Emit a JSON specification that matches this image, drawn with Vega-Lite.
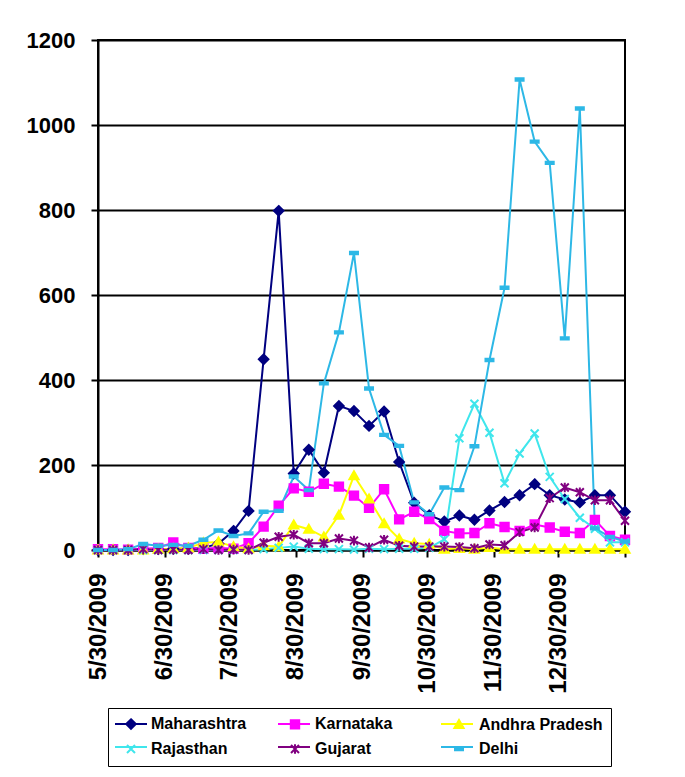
{
  "$schema": "https://vega.github.io/schema/vega-lite/v6.json",
  "autosize": "none",
  "padding": {"left": 98, "top": 40, "right": 60, "bottom": 227},
  "width": 527,
  "height": 510,
  "background": "white",
  "config": {
    "view": {"stroke": "black", "strokeWidth": 2},
    "font": "Liberation Sans",
    "legend": {
      "orient": "none",
      "legendX": 10,
      "legendY": 668,
      "direction": "horizontal",
      "columns": 3,
      "gridAlign": "all",
      "rowPadding": 7,
      "padding": 8,
      "labelFont": "Liberation Sans",
      "labelFontSize": 16,
      "labelFontWeight": "bold",
      "labelColor": "black",
      "labelLimit": 200,
      "symbolSize": 64,
      "symbolOffset": 7,
      "labelOffset": 12,
      "symbolOpacity": 1,
      "symbolStrokeWidth": 2
    }
  },
  "data": {
    "values": [
      {"d": "2009-05-30", "s": "Maharashtra", "v": 0}, {"d": "2009-06-06", "s": "Maharashtra", "v": 0}, {"d": "2009-06-13", "s": "Maharashtra", "v": 0}, {"d": "2009-06-20", "s": "Maharashtra", "v": 2}, {"d": "2009-06-27", "s": "Maharashtra", "v": 2}, {"d": "2009-07-04", "s": "Maharashtra", "v": 3}, {"d": "2009-07-11", "s": "Maharashtra", "v": 3}, {"d": "2009-07-18", "s": "Maharashtra", "v": 5}, {"d": "2009-07-25", "s": "Maharashtra", "v": 15}, {"d": "2009-08-01", "s": "Maharashtra", "v": 45}, {"d": "2009-08-08", "s": "Maharashtra", "v": 92}, {"d": "2009-08-15", "s": "Maharashtra", "v": 449}, {"d": "2009-08-22", "s": "Maharashtra", "v": 798}, {"d": "2009-08-29", "s": "Maharashtra", "v": 180}, {"d": "2009-09-05", "s": "Maharashtra", "v": 236}, {"d": "2009-09-12", "s": "Maharashtra", "v": 182}, {"d": "2009-09-19", "s": "Maharashtra", "v": 339}, {"d": "2009-09-26", "s": "Maharashtra", "v": 327}, {"d": "2009-10-03", "s": "Maharashtra", "v": 292}, {"d": "2009-10-10", "s": "Maharashtra", "v": 326}, {"d": "2009-10-17", "s": "Maharashtra", "v": 207}, {"d": "2009-10-24", "s": "Maharashtra", "v": 111}, {"d": "2009-10-31", "s": "Maharashtra", "v": 82}, {"d": "2009-11-07", "s": "Maharashtra", "v": 67}, {"d": "2009-11-14", "s": "Maharashtra", "v": 81}, {"d": "2009-11-21", "s": "Maharashtra", "v": 71}, {"d": "2009-11-28", "s": "Maharashtra", "v": 93}, {"d": "2009-12-05", "s": "Maharashtra", "v": 113}, {"d": "2009-12-12", "s": "Maharashtra", "v": 129}, {"d": "2009-12-19", "s": "Maharashtra", "v": 155}, {"d": "2009-12-26", "s": "Maharashtra", "v": 129}, {"d": "2010-01-02", "s": "Maharashtra", "v": 119}, {"d": "2010-01-09", "s": "Maharashtra", "v": 112}, {"d": "2010-01-16", "s": "Maharashtra", "v": 129}, {"d": "2010-01-23", "s": "Maharashtra", "v": 129}, {"d": "2010-01-30", "s": "Maharashtra", "v": 90},
      {"d": "2009-05-30", "s": "Karnataka", "v": 2}, {"d": "2009-06-06", "s": "Karnataka", "v": 2}, {"d": "2009-06-13", "s": "Karnataka", "v": 1}, {"d": "2009-06-20", "s": "Karnataka", "v": 3}, {"d": "2009-06-27", "s": "Karnataka", "v": 5}, {"d": "2009-07-04", "s": "Karnataka", "v": 18}, {"d": "2009-07-11", "s": "Karnataka", "v": 5}, {"d": "2009-07-18", "s": "Karnataka", "v": 3}, {"d": "2009-07-25", "s": "Karnataka", "v": 5}, {"d": "2009-08-01", "s": "Karnataka", "v": 3}, {"d": "2009-08-08", "s": "Karnataka", "v": 16}, {"d": "2009-08-15", "s": "Karnataka", "v": 55}, {"d": "2009-08-22", "s": "Karnataka", "v": 104}, {"d": "2009-08-29", "s": "Karnataka", "v": 145}, {"d": "2009-09-05", "s": "Karnataka", "v": 137}, {"d": "2009-09-12", "s": "Karnataka", "v": 156}, {"d": "2009-09-19", "s": "Karnataka", "v": 149}, {"d": "2009-09-26", "s": "Karnataka", "v": 128}, {"d": "2009-10-03", "s": "Karnataka", "v": 99}, {"d": "2009-10-10", "s": "Karnataka", "v": 143}, {"d": "2009-10-17", "s": "Karnataka", "v": 72}, {"d": "2009-10-24", "s": "Karnataka", "v": 90}, {"d": "2009-10-31", "s": "Karnataka", "v": 73}, {"d": "2009-11-07", "s": "Karnataka", "v": 45}, {"d": "2009-11-14", "s": "Karnataka", "v": 39}, {"d": "2009-11-21", "s": "Karnataka", "v": 40}, {"d": "2009-11-28", "s": "Karnataka", "v": 63}, {"d": "2009-12-05", "s": "Karnataka", "v": 54}, {"d": "2009-12-12", "s": "Karnataka", "v": 45}, {"d": "2009-12-19", "s": "Karnataka", "v": 60}, {"d": "2009-12-26", "s": "Karnataka", "v": 53}, {"d": "2010-01-02", "s": "Karnataka", "v": 43}, {"d": "2010-01-09", "s": "Karnataka", "v": 40}, {"d": "2010-01-16", "s": "Karnataka", "v": 71}, {"d": "2010-01-23", "s": "Karnataka", "v": 33}, {"d": "2010-01-30", "s": "Karnataka", "v": 24},
      {"d": "2009-05-30", "s": "Andhra Pradesh", "v": 0}, {"d": "2009-06-06", "s": "Andhra Pradesh", "v": 0}, {"d": "2009-06-13", "s": "Andhra Pradesh", "v": 0}, {"d": "2009-06-20", "s": "Andhra Pradesh", "v": 0}, {"d": "2009-06-27", "s": "Andhra Pradesh", "v": 2}, {"d": "2009-07-04", "s": "Andhra Pradesh", "v": 3}, {"d": "2009-07-11", "s": "Andhra Pradesh", "v": 5}, {"d": "2009-07-18", "s": "Andhra Pradesh", "v": 17}, {"d": "2009-07-25", "s": "Andhra Pradesh", "v": 19}, {"d": "2009-08-01", "s": "Andhra Pradesh", "v": 8}, {"d": "2009-08-08", "s": "Andhra Pradesh", "v": 3}, {"d": "2009-08-15", "s": "Andhra Pradesh", "v": 10}, {"d": "2009-08-22", "s": "Andhra Pradesh", "v": 8}, {"d": "2009-08-29", "s": "Andhra Pradesh", "v": 59}, {"d": "2009-09-05", "s": "Andhra Pradesh", "v": 49}, {"d": "2009-09-12", "s": "Andhra Pradesh", "v": 31}, {"d": "2009-09-19", "s": "Andhra Pradesh", "v": 82}, {"d": "2009-09-26", "s": "Andhra Pradesh", "v": 175}, {"d": "2009-10-03", "s": "Andhra Pradesh", "v": 120}, {"d": "2009-10-10", "s": "Andhra Pradesh", "v": 62}, {"d": "2009-10-17", "s": "Andhra Pradesh", "v": 26}, {"d": "2009-10-24", "s": "Andhra Pradesh", "v": 16}, {"d": "2009-10-31", "s": "Andhra Pradesh", "v": 14}, {"d": "2009-11-07", "s": "Andhra Pradesh", "v": 2}, {"d": "2009-11-14", "s": "Andhra Pradesh", "v": 4}, {"d": "2009-11-21", "s": "Andhra Pradesh", "v": 2}, {"d": "2009-11-28", "s": "Andhra Pradesh", "v": 6}, {"d": "2009-12-05", "s": "Andhra Pradesh", "v": 2}, {"d": "2009-12-12", "s": "Andhra Pradesh", "v": 2}, {"d": "2009-12-19", "s": "Andhra Pradesh", "v": 2}, {"d": "2009-12-26", "s": "Andhra Pradesh", "v": 2}, {"d": "2010-01-02", "s": "Andhra Pradesh", "v": 2}, {"d": "2010-01-09", "s": "Andhra Pradesh", "v": 2}, {"d": "2010-01-16", "s": "Andhra Pradesh", "v": 2}, {"d": "2010-01-23", "s": "Andhra Pradesh", "v": 2}, {"d": "2010-01-30", "s": "Andhra Pradesh", "v": 2},
      {"d": "2009-05-30", "s": "Rajasthan", "v": 0}, {"d": "2009-06-06", "s": "Rajasthan", "v": 0}, {"d": "2009-06-13", "s": "Rajasthan", "v": 0}, {"d": "2009-06-20", "s": "Rajasthan", "v": 0}, {"d": "2009-06-27", "s": "Rajasthan", "v": 0}, {"d": "2009-07-04", "s": "Rajasthan", "v": 0}, {"d": "2009-07-11", "s": "Rajasthan", "v": 0}, {"d": "2009-07-18", "s": "Rajasthan", "v": 0}, {"d": "2009-07-25", "s": "Rajasthan", "v": 0}, {"d": "2009-08-01", "s": "Rajasthan", "v": 0}, {"d": "2009-08-08", "s": "Rajasthan", "v": 0}, {"d": "2009-08-15", "s": "Rajasthan", "v": 2}, {"d": "2009-08-22", "s": "Rajasthan", "v": 5}, {"d": "2009-08-29", "s": "Rajasthan", "v": 8}, {"d": "2009-09-05", "s": "Rajasthan", "v": 3}, {"d": "2009-09-12", "s": "Rajasthan", "v": 2}, {"d": "2009-09-19", "s": "Rajasthan", "v": 2}, {"d": "2009-09-26", "s": "Rajasthan", "v": 1}, {"d": "2009-10-03", "s": "Rajasthan", "v": 3}, {"d": "2009-10-10", "s": "Rajasthan", "v": 2}, {"d": "2009-10-17", "s": "Rajasthan", "v": 3}, {"d": "2009-10-24", "s": "Rajasthan", "v": 3}, {"d": "2009-10-31", "s": "Rajasthan", "v": 5}, {"d": "2009-11-07", "s": "Rajasthan", "v": 25}, {"d": "2009-11-14", "s": "Rajasthan", "v": 263}, {"d": "2009-11-21", "s": "Rajasthan", "v": 344}, {"d": "2009-11-28", "s": "Rajasthan", "v": 276}, {"d": "2009-12-05", "s": "Rajasthan", "v": 157}, {"d": "2009-12-12", "s": "Rajasthan", "v": 227}, {"d": "2009-12-19", "s": "Rajasthan", "v": 274}, {"d": "2009-12-26", "s": "Rajasthan", "v": 172}, {"d": "2010-01-02", "s": "Rajasthan", "v": 120}, {"d": "2010-01-09", "s": "Rajasthan", "v": 76}, {"d": "2010-01-16", "s": "Rajasthan", "v": 50}, {"d": "2010-01-23", "s": "Rajasthan", "v": 18}, {"d": "2010-01-30", "s": "Rajasthan", "v": 18},
      {"d": "2009-05-30", "s": "Gujarat", "v": 0}, {"d": "2009-06-06", "s": "Gujarat", "v": 0}, {"d": "2009-06-13", "s": "Gujarat", "v": 0}, {"d": "2009-06-20", "s": "Gujarat", "v": 2}, {"d": "2009-06-27", "s": "Gujarat", "v": 0}, {"d": "2009-07-04", "s": "Gujarat", "v": 1}, {"d": "2009-07-11", "s": "Gujarat", "v": 0}, {"d": "2009-07-18", "s": "Gujarat", "v": 2}, {"d": "2009-07-25", "s": "Gujarat", "v": 0}, {"d": "2009-08-01", "s": "Gujarat", "v": 1}, {"d": "2009-08-08", "s": "Gujarat", "v": 0}, {"d": "2009-08-15", "s": "Gujarat", "v": 17}, {"d": "2009-08-22", "s": "Gujarat", "v": 31}, {"d": "2009-08-29", "s": "Gujarat", "v": 36}, {"d": "2009-09-05", "s": "Gujarat", "v": 16}, {"d": "2009-09-12", "s": "Gujarat", "v": 16}, {"d": "2009-09-19", "s": "Gujarat", "v": 27}, {"d": "2009-09-26", "s": "Gujarat", "v": 22}, {"d": "2009-10-03", "s": "Gujarat", "v": 6}, {"d": "2009-10-10", "s": "Gujarat", "v": 24}, {"d": "2009-10-17", "s": "Gujarat", "v": 10}, {"d": "2009-10-24", "s": "Gujarat", "v": 8}, {"d": "2009-10-31", "s": "Gujarat", "v": 8}, {"d": "2009-11-07", "s": "Gujarat", "v": 8}, {"d": "2009-11-14", "s": "Gujarat", "v": 7}, {"d": "2009-11-21", "s": "Gujarat", "v": 4}, {"d": "2009-11-28", "s": "Gujarat", "v": 13}, {"d": "2009-12-05", "s": "Gujarat", "v": 11}, {"d": "2009-12-12", "s": "Gujarat", "v": 42}, {"d": "2009-12-19", "s": "Gujarat", "v": 53}, {"d": "2009-12-26", "s": "Gujarat", "v": 122}, {"d": "2010-01-02", "s": "Gujarat", "v": 147}, {"d": "2010-01-09", "s": "Gujarat", "v": 136}, {"d": "2010-01-16", "s": "Gujarat", "v": 117}, {"d": "2010-01-23", "s": "Gujarat", "v": 117}, {"d": "2010-01-30", "s": "Gujarat", "v": 69},
      {"d": "2009-05-30", "s": "Delhi", "v": 0}, {"d": "2009-06-06", "s": "Delhi", "v": 0}, {"d": "2009-06-13", "s": "Delhi", "v": 2}, {"d": "2009-06-20", "s": "Delhi", "v": 14}, {"d": "2009-06-27", "s": "Delhi", "v": 10}, {"d": "2009-07-04", "s": "Delhi", "v": 12}, {"d": "2009-07-11", "s": "Delhi", "v": 10}, {"d": "2009-07-18", "s": "Delhi", "v": 24}, {"d": "2009-07-25", "s": "Delhi", "v": 46}, {"d": "2009-08-01", "s": "Delhi", "v": 33}, {"d": "2009-08-08", "s": "Delhi", "v": 39}, {"d": "2009-08-15", "s": "Delhi", "v": 90}, {"d": "2009-08-22", "s": "Delhi", "v": 92}, {"d": "2009-08-29", "s": "Delhi", "v": 173}, {"d": "2009-09-05", "s": "Delhi", "v": 141}, {"d": "2009-09-12", "s": "Delhi", "v": 392}, {"d": "2009-09-19", "s": "Delhi", "v": 512}, {"d": "2009-09-26", "s": "Delhi", "v": 699}, {"d": "2009-10-03", "s": "Delhi", "v": 380}, {"d": "2009-10-10", "s": "Delhi", "v": 271}, {"d": "2009-10-17", "s": "Delhi", "v": 245}, {"d": "2009-10-24", "s": "Delhi", "v": 112}, {"d": "2009-10-31", "s": "Delhi", "v": 84}, {"d": "2009-11-07", "s": "Delhi", "v": 147}, {"d": "2009-11-14", "s": "Delhi", "v": 141}, {"d": "2009-11-21", "s": "Delhi", "v": 244}, {"d": "2009-11-28", "s": "Delhi", "v": 447}, {"d": "2009-12-05", "s": "Delhi", "v": 617}, {"d": "2009-12-12", "s": "Delhi", "v": 1107}, {"d": "2009-12-19", "s": "Delhi", "v": 961}, {"d": "2009-12-26", "s": "Delhi", "v": 911}, {"d": "2010-01-02", "s": "Delhi", "v": 498}, {"d": "2010-01-09", "s": "Delhi", "v": 1039}, {"d": "2010-01-16", "s": "Delhi", "v": 51}, {"d": "2010-01-23", "s": "Delhi", "v": 31}, {"d": "2010-01-30", "s": "Delhi", "v": 20}
    ]
  },
  "encoding": {
    "x": {
      "field": "d",
      "type": "temporal",
      "title": null,
      "scale": {
        "type": "utc",
        "domain": [
          {"year": 2009, "month": "May", "date": 30, "utc": true},
          {"year": 2010, "month": "Jan", "date": 30, "utc": true}
        ]
      },
      "axis": {
        "values": [
          {"year": 2009, "month": "May", "date": 30, "utc": true},
          {"year": 2009, "month": "Jun", "date": 30, "utc": true},
          {"year": 2009, "month": "Jul", "date": 30, "utc": true},
          {"year": 2009, "month": "Aug", "date": 30, "utc": true},
          {"year": 2009, "month": "Sep", "date": 30, "utc": true},
          {"year": 2009, "month": "Oct", "date": 30, "utc": true},
          {"year": 2009, "month": "Nov", "date": 30, "utc": true},
          {"year": 2009, "month": "Dec", "date": 30, "utc": true},
          {"year": 2010, "month": "Jan", "date": 30, "utc": true}
        ],
        "format": "%-m/%-d/%Y",
        "labelExpr": "utcyear(datum.value) == 2010 ? '' : datum.label",
        "labelAngle": -90,
        "labelFontSize": 24,
        "labelFontWeight": "bold",
        "labelColor": "black",
        "labelPadding": 16,
        "labelFlush": false,
        "labelOverlap": false,
        "tickSize": 7,
        "tickWidth": 2,
        "tickColor": "black",
        "domainColor": "black",
        "domainWidth": 2,
        "grid": false
      }
    },
    "y": {
      "field": "v",
      "type": "quantitative",
      "title": null,
      "scale": {"domain": [0, 1200], "nice": false},
      "axis": {
        "values": [0, 200, 400, 600, 800, 1000, 1200],
        "format": "d",
        "labelFontSize": 22,
        "labelFontWeight": "bold",
        "labelColor": "black",
        "labelPadding": 16,
        "tickSize": 7,
        "tickWidth": 2,
        "tickColor": "black",
        "domainColor": "black",
        "domainWidth": 2,
        "grid": true,
        "gridColor": "black",
        "gridWidth": 2,
        "gridOpacity": 1
      }
    }
  },
  "layer": [
    {
      "mark": {"type": "line", "strokeWidth": 2},
      "encoding": {
        "stroke": {
          "field": "s",
          "type": "nominal",
          "scale": {
            "domain": ["Maharashtra", "Karnataka", "Andhra Pradesh", "Rajasthan", "Gujarat", "Delhi", "zz"],
            "range": ["#000080", "#FF00FF", "#FFFF00", "#3FE6EC", "#800080", "#2DB8E6", "#000000"]
          },
          "legend": {
            "title": null,
            "values": ["Maharashtra", "Karnataka", "Andhra Pradesh", "Rajasthan", "Gujarat", "Delhi"],
            "symbolType": "M-4,0L4,0",
            "labelExpr": "''",
            "columnPadding": 123
          }
        }
      }
    },
    {
      "mark": {"type": "point", "filled": false, "opacity": 1, "size": 64, "strokeWidth": 2},
      "encoding": {
        "color": {
          "field": "s",
          "type": "nominal",
          "scale": {
            "domain": ["Maharashtra", "Karnataka", "Andhra Pradesh", "Rajasthan", "Gujarat", "Delhi"],
            "range": ["#000080", "#FF00FF", "#FFFF00", "#3FE6EC", "#800080", "#2DB8E6"]
          },
          "legend": {
            "title": null,
            "columnPadding": 5,
            "strokeColor": "black",
            "encode": {
              "legend": {"update": {"strokeWidth": {"value": 2}}},
              "symbols": {
                "update": {
                  "fill": {"signal": "scale('color', datum.value)"},
                  "stroke": {"signal": "scale('color', datum.value)"},
                  "strokeWidth": {"value": 2},
                  "opacity": {"value": 1}
                }
              }
            }
          }
        },
        "shape": {
          "field": "s",
          "type": "nominal",
          "scale": {
            "domain": ["Maharashtra", "Karnataka", "Andhra Pradesh", "Rajasthan", "Gujarat", "Delhi"],
            "range": [
              "M0,-1.2L1.2,0L0,1.2L-1.2,0Z",
              "M-1.05,-1.05L1.05,-1.05L1.05,1.05L-1.05,1.05Z",
              "M0,-1.1L1.15,0.9L-1.15,0.9Z",
              "M-1,-1L1,1M-1,1L1,-1",
              "M-1,-1L1,1M-1,1L1,-1M0,-1.2L0,1.2",
              "M-1,-0.3L1,-0.3L1,0.3L-1,0.3Z"
            ]
          },
          "legend": null
        },
        "fill": {
          "field": "s",
          "type": "nominal",
          "scale": {
            "domain": ["Maharashtra", "Karnataka", "Andhra Pradesh", "Rajasthan", "Gujarat", "Delhi"],
            "range": ["#000080", "#FF00FF", "#FFFF00", "#3FE6EC", "#800080", "#2DB8E6"]
          },
          "legend": null
        }
      }
    }
  ]
}
